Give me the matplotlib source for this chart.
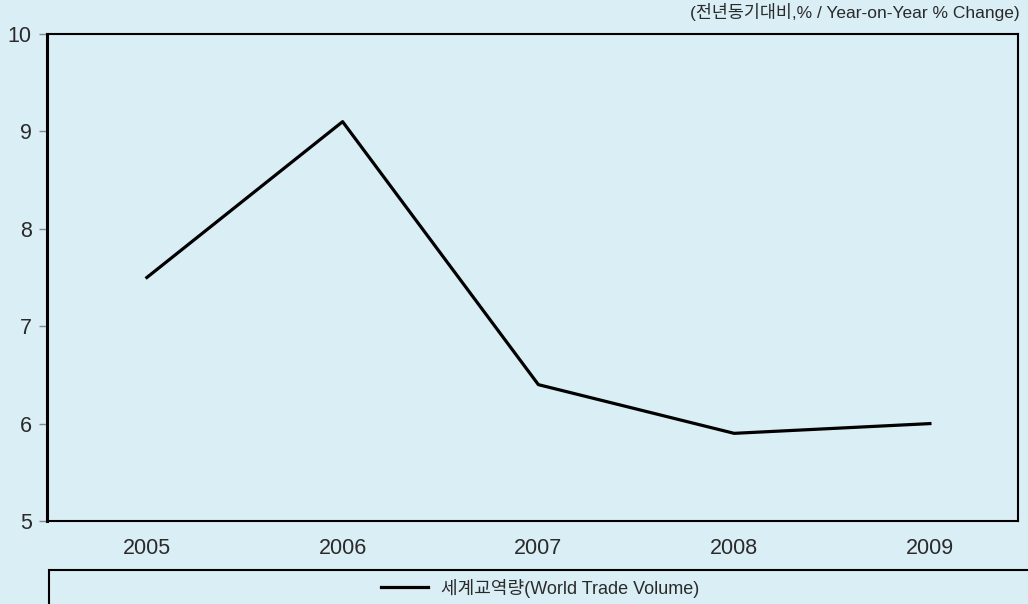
import matplotlib.pyplot as plt
from matplotlib.patches import Rectangle

plt.rcParams['font.family'] = ['Liberation Sans', 'Noto Sans CJK KR']

years = ['2005', '2006', '2007', '2008', '2009']
trade_volume = [7.5, 9.1, 6.4, 5.9, 6.0]

bg = '#daeef5'

fig = plt.figure(figsize=(10.28, 6.04), dpi=100, facecolor=bg)
ax = fig.add_axes([47 / 1028, 83 / 604, 971 / 1028, 487 / 604])
ax.set_facecolor(bg)

x = range(len(years))
ax.plot(x, trade_volume, color='black', linewidth=2.3, label='세계교역량(World Trade Volume)')

ax.set_xlim(-0.51, 4.45)
ax.set_ylim(5, 10)
ax.set_xticks(list(x))
ax.set_xticklabels(years)
ax.set_yticks([5, 6, 7, 8, 9, 10])
ax.tick_params(axis='x', length=0, pad=12, labelsize=15.5, colors='#2a2a2a')
ax.tick_params(axis='y', length=6, width=1, color='#888888', pad=5, labelsize=15.5, labelcolor='#2a2a2a')
for side in ['top', 'right', 'bottom']:
    ax.spines[side].set_linewidth(1.5)
ax.spines['left'].set_linewidth(2.2)

fig.text(1020 / 1028, 1 - 12 / 604, '(전년동기대비,% / Year-on-Year % Change)',
         ha='right', va='center', fontsize=12.5, color='#2a2a2a')

# legend box
fig.patches.append(Rectangle((49 / 1028, -0.02), 1.0, (604 - 570) / 604 + 0.02,
                             transform=fig.transFigure, facecolor='none',
                             edgecolor='black', linewidth=1.5, clip_on=False))
fig.legend(loc='center', bbox_to_anchor=(540 / 1028, 1 - 588 / 604), frameon=False,
           fontsize=13, handlelength=2.6, handletextpad=0.7,
           labelcolor='#2a2a2a')

fig.savefig('out.png', dpi=100, facecolor=bg)
